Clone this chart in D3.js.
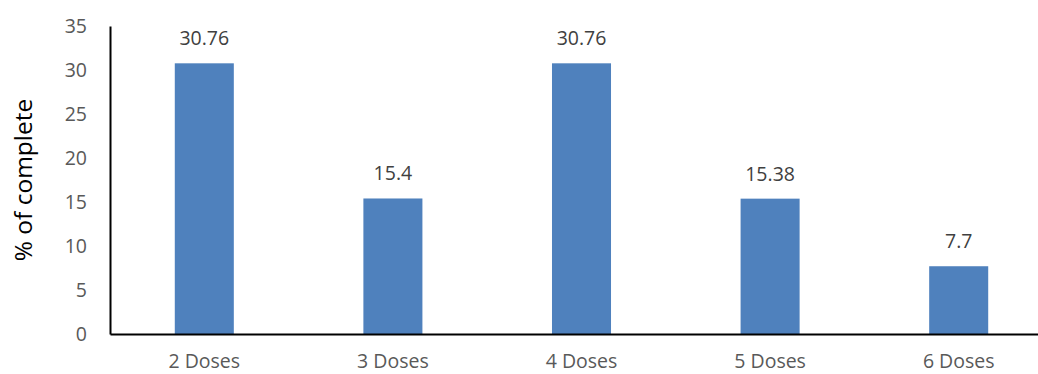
<!DOCTYPE html>
<html>
<head>
<meta charset="utf-8">
<script src="https://cdn.jsdelivr.net/npm/d3@7"></script>
<style>
  body { margin: 0; background: #fff; }
  text { font-family: "Open Sans", sans-serif; }
</style>
</head>
<body>
<svg id="chart" width="1038" height="374"></svg>
<script>
// chart data
const categories = ["2 Doses", "3 Doses", "4 Doses", "5 Doses", "6 Doses"];
const values = [30.76, 15.4, 30.76, 15.38, 7.7];
const valueLabels = ["30.76", "15.4", "30.76", "15.38", "7.7"];
const yTicks = [0, 5, 10, 15, 20, 25, 30, 35];

const svg = d3.select("#chart");
const margin = {left: 110, top: 26, bottom: 334};

// x scale runs a little past the right edge, like the original
const x = d3.scaleBand()
    .domain(categories)
    .range([margin.left, 1053])
    .paddingInner(0.687)
    .paddingOuter(0.3435);

const y = d3.scaleLinear()
    .domain([0, 35])
    .range([margin.bottom, margin.top]);

// bars
svg.append("g")
    .selectAll("rect")
    .data(values)
    .join("rect")
    .attr("x", (d, i) => x(categories[i]))
    .attr("y", d => y(d))
    .attr("width", x.bandwidth())
    .attr("height", d => y(0) - y(d))
    .attr("fill", "#4f81bd");

// value labels above bars
svg.append("g")
    .selectAll("text")
    .data(values)
    .join("text")
    .attr("x", (d, i) => x(categories[i]) + x.bandwidth() / 2)
    .attr("y", d => y(d) - 18)
    .attr("text-anchor", "middle")
    .attr("font-size", 19.5)
    .attr("fill", "#404040")
    .text((d, i) => valueLabels[i]);

// y axis
const yAxis = d3.axisLeft(y).tickValues(yTicks).tickSize(0).tickPadding(23);
const gy = svg.append("g")
    .attr("transform", "translate(" + margin.left + ",0)")
    .call(yAxis);
gy.select(".domain").attr("stroke", "#000").attr("stroke-width", 2);
gy.selectAll("text").attr("font-size", 19.5).attr("fill", "#595959")
    .attr("font-family", "Open Sans, sans-serif");

// x axis
const xAxis = d3.axisBottom(x).tickSize(0).tickPadding(20);
const gx = svg.append("g")
    .attr("transform", "translate(0," + margin.bottom + ")")
    .call(xAxis);
gx.select(".domain").attr("stroke", "#000").attr("stroke-width", 2);
gx.selectAll("text").attr("font-size", 19.5).attr("fill", "#595959")
    .attr("font-family", "Open Sans, sans-serif");

// y axis title
svg.append("text")
    .attr("transform", "translate(32,180) rotate(-90)")
    .attr("text-anchor", "middle")
    .attr("font-size", 24.5)
    .attr("fill", "#000")
    .text("% of complete");
</script>
</body>
</html>
